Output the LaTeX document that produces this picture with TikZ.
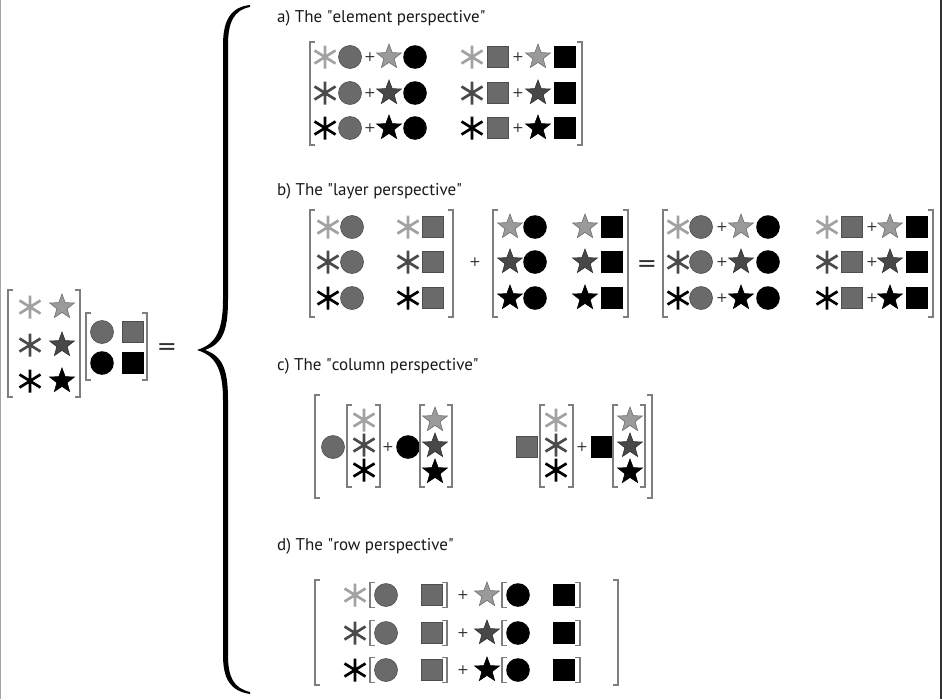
\documentclass[tikz,border=0pt]{standalone}
\usepackage{fontspec}
\setmainfont{PT Sans}
\newfontfamily\plusfont{DejaVu Sans}
\usetikzlibrary{shapes.geometric}
\definecolor{astL}{HTML}{A2A2A2}
\definecolor{astD}{HTML}{4A4A4A}
\definecolor{stLf}{HTML}{9A9A9A}
\definecolor{stLd}{HTML}{707070}
\definecolor{stDf}{HTML}{484848}
\definecolor{stDd}{HTML}{303030}
\definecolor{ciG}{HTML}{6A6A6A}
\definecolor{ciGd}{HTML}{4E4E4E}
\definecolor{brk}{HTML}{7E7E7E}
\definecolor{plc}{HTML}{333333}
\tikzset{
  brkline/.style={draw=brk,line width=1.3pt},
  astline/.style={line width=2.7pt},
  plussign/.style={text=plc,font=\plusfont\fontsize{14}{14}\selectfont,inner sep=0pt},
  eqsign/.style={text=plc,font=\plusfont\fontsize{24}{24}\selectfont,inner sep=0pt},
  title/.style={anchor=base west,inner sep=0pt,font=\fontsize{17}{17}\selectfont,text=black!90}
}
% asterisk: x, y, colour
\newcommand\SymAst[3]{\draw[astline,#3] (#1,#2) +(0,-11.5) -- +(0,11.5) (#1,#2) +(-10.5,-6.5) -- +(10.5,6.5) (#1,#2) +(-10.5,6.5) -- +(10.5,-6.5);}
% star: x, y, fill, draw
\newcommand\SymStar[4]{\node[star,star points=5,star point ratio=2.4,minimum size=26pt,inner sep=0pt,fill=#3,draw=#4,line width=0.6pt] at (#1,#2) {};}
\newcommand\StarL[2]{\SymStar{#1}{#2}{stLf}{stLd}}
\newcommand\StarD[2]{\SymStar{#1}{#2}{stDf}{stDd}}
\newcommand\StarB[2]{\SymStar{#1}{#2}{black}{black}}
\newcommand\AstL[2]{\SymAst{#1}{#2}{astL}}
\newcommand\AstD[2]{\SymAst{#1}{#2}{astD}}
\newcommand\AstB[2]{\SymAst{#1}{#2}{black}}
\newcommand\CirG[2]{\filldraw[fill=ciG,draw=ciGd,line width=0.6pt] (#1,#2) circle (11.5);}
\newcommand\CirB[2]{\fill[black] (#1,#2) circle (11.8);}
\newcommand\SqG[2]{\filldraw[fill=ciG,draw=ciGd,line width=0.6pt] (#1,#2) +(-10.5,-10.5) rectangle +(10.5,10.5);}
\newcommand\SqB[2]{\fill[black] (#1,#2) +(-10.8,-10.8) rectangle +(10.8,10.8);}
\newcommand\Pls[2]{\node[plussign] at (#1,#2) {+};}
% bracket pair: xleft, xright, ytop, ybottom
\newcommand\Brk[4]{\draw[brkline] (#1+5,#3) -- (#1,#3) -- (#1,#4) -- (#1+5,#4);
  \draw[brkline] (#2-5,#3) -- (#2,#3) -- (#2,#4) -- (#2-5,#4);}
\begin{document}
\begin{tikzpicture}[x=1pt,y=-1pt]
\useasboundingbox (0,0) rectangle (942,699);
\fill[white] (0,0) rectangle (942,699);
\draw[gray!70,line width=1.2pt] (0.6,0) -- (0.6,699);
\draw[black!80,line width=1.6pt] (940.8,0) -- (940.8,699);

% ---------- left product ----------
\Brk{8}{80}{290}{397}
\AstL{30}{307}\StarL{62}{307}
\AstD{30}{345}\StarD{62}{345}
\AstB{30}{381}\StarB{62}{381}
\Brk{86}{147}{313}{380}
\CirG{102}{332}\SqG{133}{332}
\CirB{102}{363}\SqB{133}{363}
\node[eqsign] (eq0) at (167,349) {=};

% ---------- brace ----------
\fill[black] (250,5) .. controls (231,7) and (223,20) .. (223,45) -- (223,300)
  .. controls (223,335) and (213,345) .. (197,350)
  .. controls (213,355) and (223,365) .. (223,400) -- (223,655)
  .. controls (223,680) and (231,691) .. (250,694)
  -- (250,692) .. controls (234,688) and (228,678) .. (228,655) -- (228,400)
  .. controls (228,368) and (222,356) .. (205,350)
  .. controls (222,344) and (228,332) .. (228,300) -- (228,45)
  .. controls (228,22) and (234,10) .. (250,7) -- cycle;

% ---------- a) ----------
\node[title] (ta) at (277,22) {a) The \textquotedbl element perspective\textquotedbl};
\Brk{310}{582}{42}{145}
\foreach \y/\A/\S in {57/AstL/StarL,93/AstD/StarD,128/AstB/StarB}{
  \csname\A\endcsname{325}{\y}\CirG{350}{\y}\Pls{370}{\y}\csname\S\endcsname{389}{\y}\CirB{415}{\y}
  \csname\A\endcsname{472}{\y}\SqG{498}{\y}\Pls{518}{\y}\csname\S\endcsname{538}{\y}\SqB{565}{\y}
}

% ---------- b) ----------
\node[title] (tb) at (277,195) {b) The \textquotedbl layer perspective\textquotedbl};
\Brk{310}{453}{210}{317}
\Brk{493}{628}{210}{317}
\Brk{663}{933}{210}{317}
\node[plussign] (pb) at (475,262) {+};
\node[eqsign] (eb) at (647,266) {=};
\foreach \y/\A/\S in {227/AstL/StarL,262/AstD/StarD,298/AstB/StarB}{
  \csname\A\endcsname{328}{\y}\CirG{352}{\y}
  \csname\A\endcsname{408}{\y}\SqG{433}{\y}
  \csname\S\endcsname{510}{\y}\CirB{535}{\y}
  \csname\S\endcsname{585}{\y}\SqB{612}{\y}
  \csname\A\endcsname{678}{\y}\CirG{701}{\y}\Pls{722}{\y}\csname\S\endcsname{741}{\y}\CirB{768}{\y}
  \csname\A\endcsname{827}{\y}\SqG{852}{\y}\Pls{872}{\y}\csname\S\endcsname{890}{\y}\SqB{917}{\y}
}

% ---------- c) ----------
\node[title] (tc) at (277,370) {c) The \textquotedbl column perspective\textquotedbl};
\Brk{315}{652}{395}{498}
\CirG{333}{447}
\Brk{347}{380}{405}{487}
\AstL{364}{420}\AstD{364}{445}\AstB{364}{470}
\Pls{388}{447}
\CirB{408}{447}
\Brk{420}{452}{405}{487}
\StarL{435}{420}\StarD{435}{446}\StarB{435}{472}
\SqG{527}{447}
\Brk{540}{573}{405}{487}
\AstL{556}{420}\AstD{556}{445}\AstB{556}{470}
\Pls{582}{447}
\SqB{602}{447}
\Brk{613}{645}{405}{487}
\StarL{630}{420}\StarD{630}{446}\StarB{630}{472}

% ---------- d) ----------
\node[title] (td) at (277,550) {d) The \textquotedbl row perspective\textquotedbl};
\Brk{315}{618}{580}{685}
\foreach \y/\A/\S in {595/AstL/StarL,633/AstD/StarD,670/AstB/StarB}{
  \csname\A\endcsname{355}{\y}
  \Brk{370}{447}{\y-12.5}{\y+12.5}
  \CirG{386}{\y}\SqG{432}{\y}
  \Pls{463}{\y}
  \csname\S\endcsname{487}{\y}
  \Brk{502}{580}{\y-12.5}{\y+12.5}
  \CirB{518}{\y}\SqB{564}{\y}
}
\end{tikzpicture}
\end{document}
